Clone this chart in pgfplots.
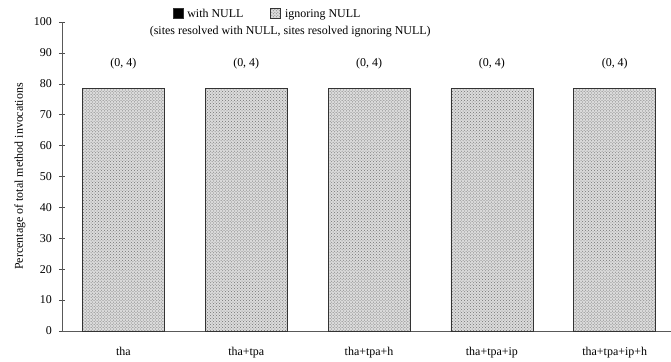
\documentclass[border=0pt]{standalone}
\usepackage{fontspec}
\setmainfont{Liberation Serif}
\usepackage{pgfplots}
\pgfplotsset{compat=1.18}
\usetikzlibrary{patterns}

% Share of method invocations resolved monomorphically, per analysis
\pgfplotstableread{
x  withnull  ignoring
0  0         78.5
1  0         78.5
2  0         78.5
3  0         78.5
4  0         78.6
}\restable

\begin{document}
\fontsize{12}{14}\selectfont
\begin{tikzpicture}
\begin{axis}[
  scale only axis,
  width=609bp, height=309bp,
  xmin=-0.5, xmax=4.456,
  ymin=0, ymax=100,
  axis x line=bottom, axis y line=left,
  axis line style={-, black!65, line width=0.5pt},
  ybar, bar shift=0pt, bar width=0.668,
  xtick={0,1,2,3,4},
  xticklabels={tha, tha+tpa, tha+tpa+h, tha+tpa+ip, tha+tpa+ip+h},
  x tick label style={yshift=-9bp},
  extra x ticks={0.5,1.5,2.5,3.5},
  extra x tick labels={},
  extra x tick style={major tick length=7bp, tick align=center, tick style={black!70}},
  ytick={0,10,...,100},
  y tick label style={xshift=-3bp},
  tick align=center,
  major tick length=6bp,
  tick style={black!70, line width=0.5pt},
  xtick style={draw=none},
  /pgf/number format/assume math mode=true,
  ylabel={Percentage of total method invocations},
  ylabel style={at={(axis description cs:-0.069,0.5)}, anchor=center},
  clip=false,
  legend columns=2,
  legend style={at={(axis description cs:0.182,1.026)}, anchor=west,
    draw=none, fill=none, inner sep=0pt,
    /tikz/every odd column/.append style={column sep=2bp},
    /tikz/every even column/.append style={column sep=25bp}},
  legend cell align=left,
  legend image code/.code={\draw[#1, draw=black!80] (0bp,-4.5bp) rectangle (10bp,5.5bp);},
]
\addplot[fill=black, draw=black, line width=0.4pt]
  table[x=x, y=withnull] {\restable};
\addlegendentry{with NULL}
\addplot[fill=black!14, draw=black!80, line width=0.6pt,
  postaction={pattern=crosshatch dots, pattern color=black!55},
  nodes near coords={(0, 4)},
  every node near coord/.append style={yshift=15bp, font=\fontsize{12}{14}\selectfont}]
  table[x=x, y=ignoring] {\restable};
\addlegendentry{ignoring NULL}
\node at (axis description cs:0.375,0.968)
  {(sites resolved with NULL, sites resolved ignoring NULL)};
\end{axis}
\path ([shift={(-62bp,-25bp)}]current axis.south west)
  rectangle ([shift={(0bp,22bp)}]current axis.north east);
\end{tikzpicture}
\end{document}
